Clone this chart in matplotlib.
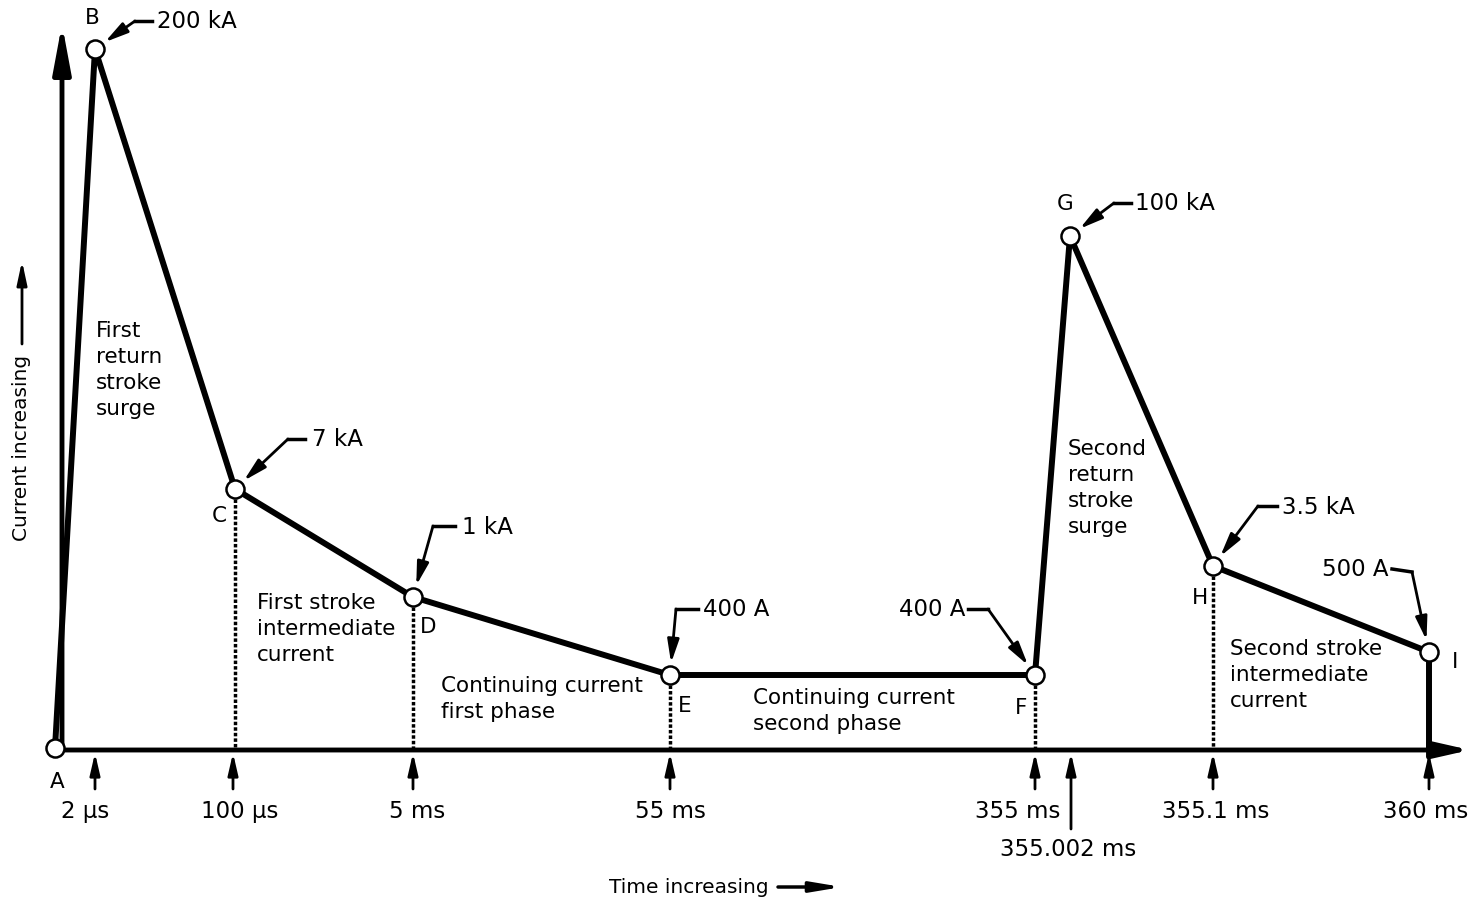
import numpy as np
import matplotlib.pyplot as plt

plt.rcParams['font.family'] = ['DejaVu Sans']

# schematic waveform: x = position along the time axis, y = current height (not to scale)
point_names = ['A', 'B', 'C', 'D', 'E', 'F', 'G', 'H', 'I']
t_pos = [0, 40, 180, 358, 615, 980, 1015, 1158, 1374]
i_level = [0, 699, 259, 151, 73, 73, 512, 182, 96]

# current values at points B..I
value_labels = ['200 kA', '7 kA', '1 kA', '400 A', '400 A', '100 kA', '3.5 kA', '500 A']

tick_pos = [40, 178, 358, 615, 980, 1016, 1158, 1374]
tick_labels = ['2 µs', '100 µs', '5 ms', '55 ms', '355 ms', '355.002 ms', '355.1 ms', '360 ms']

region_labels = ['First\nreturn\nstroke\nsurge',
                 'First stroke\nintermediate\ncurrent',
                 'Continuing current\nfirst phase',
                 'Continuing current\nsecond phase',
                 'Second\nreturn\nstroke\nsurge',
                 'Second stroke\nintermediate\ncurrent']

# layout only
region_xy = [(41, 428), (202, 156), (386, 73), (698, 61), (1013, 310), (1175, 110)]
letter_off = [(2, -33), (-3, 32), (-16, -26), (15, -29), (15, -30),
              (-14, -32), (-5, 33), (-13, -31), (26, -9)]
# (text dx, dy, ha, elbow start, elbow end) relative to the point
callouts = [(62, 28, 'left', (57, 28), (40, 28)),
            (77, 50, 'left', (70, 50), (53, 50)),
            (49, 71, 'left', (42, 71), (20, 71)),
            (33, 66, 'left', (28, 66), (6, 66)),
            (-70, 66, 'right', (-67, 66), (-47, 66)),
            (65, 33, 'left', (61, 33), (44, 33)),
            (69, 60, 'left', (64, 60), (45, 60)),
            (-41, 83, 'right', (-37, 83), (-17, 80))]
tick_dx = [-10, 7, 4, 0, -17, -3, 3, -3]
dotted_idx = [2, 3, 4, 5, 7]

FS = 15.5
FS_VAL = 16.5

fig = plt.figure(figsize=(14.73, 9.04), dpi=100)
ax = fig.add_axes([0, 0, 1, 1])
ax.set_xlim(-55, 1418)
ax.set_ylim(-155, 749)
ax.axis('off')

# axes arrows
ax.annotate('', xy=(1415, -2), xytext=(0, -2),
            arrowprops=dict(arrowstyle='-|>,head_length=1.1,head_width=0.25',
                            lw=3.5, color='k', shrinkA=0, shrinkB=0, mutation_scale=20))
ax.annotate('', xy=(7, 724), xytext=(7, -2),
            arrowprops=dict(arrowstyle='-|>,head_length=1.45,head_width=0.27',
                            lw=3.5, color='k', shrinkA=0, shrinkB=0, mutation_scale=20))

# waveform
ax.plot(t_pos + [t_pos[-1]], i_level + [0], color='k', lw=4.3, zorder=3,
        solid_capstyle='butt')
ax.plot(t_pos, i_level, 'o', ms=13, mfc='white', mec='k', mew=1.8, zorder=5)

# dotted drops
for k in dotted_idx:
    ax.plot([t_pos[k], t_pos[k]], [i_level[k] - 10, 0], color='k', lw=2.5,
            ls=(0, (1, 0.6)), zorder=2)

# point letters
for name, x, y, (dx, dy) in zip(point_names, t_pos, i_level, letter_off):
    ax.text(x + dx, y + dy, name, fontsize=FS, ha='center', va='center')

# value callouts
for k, (lab, (tx, ty, ha, e0, e1)) in enumerate(zip(value_labels, callouts)):
    px, py = t_pos[k + 1], i_level[k + 1]
    ax.text(px + tx, py + ty, lab, fontsize=FS_VAL, ha=ha, va='center')
    ax.plot([px + e0[0], px + e1[0]], [py + e0[1], py + e1[1]], color='k', lw=2.5)
    d = np.array(e1, float)
    tip = np.array([px, py]) + 12 * d / np.hypot(*d)
    ax.annotate('', xy=tip, xytext=(px + e1[0], py + e1[1]),
                arrowprops=dict(arrowstyle='-|>,head_length=1.4,head_width=0.35',
                                lw=2, color='k', shrinkA=0, shrinkB=0, mutation_scale=10))

# time ticks
for x, lab, dx in zip(tick_pos, tick_labels, tick_dx):
    long = lab == '355.002 ms'
    y0 = -81 if long else -41
    ax.annotate('', xy=(x, -5), xytext=(x, y0),
                arrowprops=dict(arrowstyle='-|>,head_length=1.3,head_width=0.3',
                                lw=2, color='k', shrinkA=0, shrinkB=0, mutation_scale=10))
    ax.text(x + dx, -101 if long else -63, lab, fontsize=FS_VAL, ha='center', va='center')

# region descriptions
for lab, (x, y) in zip(region_labels, region_xy):
    ax.text(x, y, lab, fontsize=FS, ha='left', va='top', linespacing=1.38)

# axis titles
ax.text(-33, 301, 'Current increasing', fontsize=FS - 1, rotation=90, ha='center', va='center')
ax.annotate('', xy=(-33, 487), xytext=(-33, 404),
            arrowprops=dict(arrowstyle='-|>,head_length=1.4,head_width=0.3',
                            lw=2, color='k', shrinkA=0, shrinkB=0, mutation_scale=10))
ax.text(634, -139, 'Time increasing', fontsize=FS - 1, ha='center', va='center')
ax.annotate('', xy=(787, -139), xytext=(723, -139),
            arrowprops=dict(arrowstyle='-|>,head_length=1.8,head_width=0.3',
                            lw=2.5, color='k', shrinkA=0, shrinkB=0, mutation_scale=10))

fig.savefig('out.png', dpi=100)
